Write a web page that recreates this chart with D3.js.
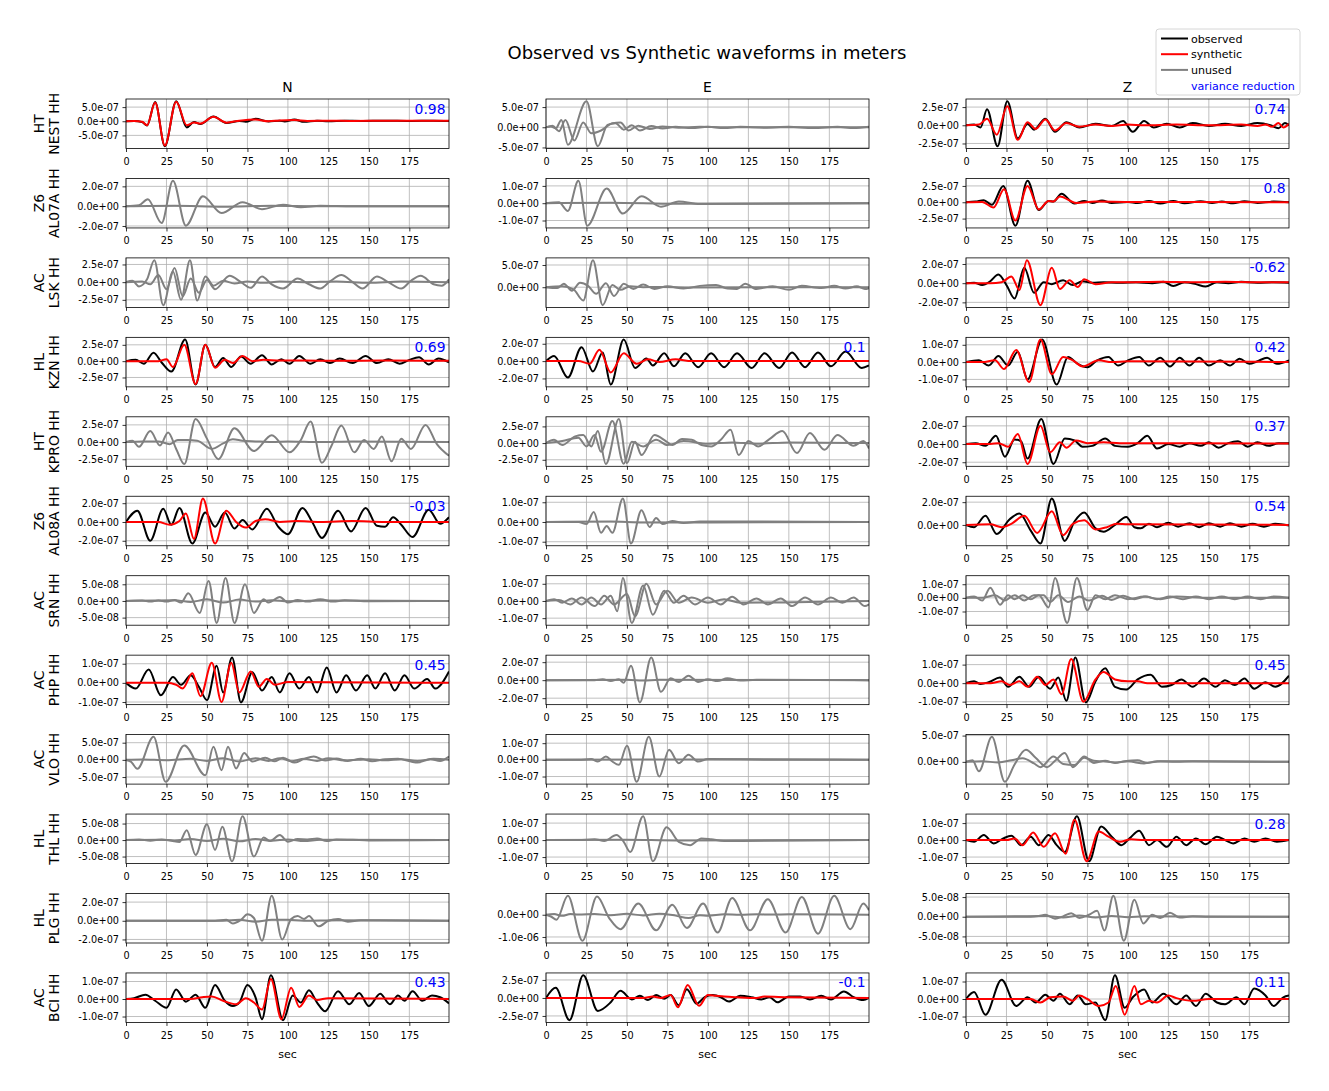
<!DOCTYPE html>
<html><head><meta charset="utf-8">
<script src="https://cdn.jsdelivr.net/npm/d3@7"></script>
<style>body{margin:0;background:#fff} text{font-family:"DejaVu Sans",sans-serif}</style>
</head><body><script>
// ---------------- DATA ----------------
const title = "Observed vs Synthetic waveforms in meters";
const components = ["N","E","Z"];
const stations = ["NEST","AL07A","LSK","KZN","KPRO","AL08A","SRN","PHP","VLO","THL","PLG","BCI"];
const networks = ["HT","Z6","AC","HL","HT","Z6","AC","AC","AC","HL","HL","AC"];
const channel = "HH";
const varReduction = [[0.98,null,0.74],[null,null,0.8],[null,null,-0.62],[0.69,0.1,0.42],[null,null,0.37],[-0.03,null,0.54],[null,null,null],[0.45,null,0.45],[null,null,null],[null,null,0.28],[null,null,null],[0.43,-0.1,0.11]];
const ampUnits = [[1e-7,1e-7,1e-7],[1e-7,1e-7,1e-7],[1e-7,1e-7,1e-7],[1e-7,1e-7,1e-7],[1e-7,1e-7,1e-7],[1e-7,1e-7,1e-7],[1e-8,1e-7,1e-7],[1e-7,1e-7,1e-7],[1e-7,1e-7,1e-7],[1e-8,1e-7,1e-7],[1e-7,1e-7,1e-8],[1e-7,1e-7,1e-7]];
const yTicks = [
 [[-5e-7,0,5e-7],[-5e-7,0,5e-7],[-2.5e-7,0,2.5e-7]],
 [[-2e-7,0,2e-7],[-1e-7,0,1e-7],[-2.5e-7,0,2.5e-7]],
 [[-2.5e-7,0,2.5e-7],[0,5e-7],[-2e-7,0,2e-7]],
 [[-2.5e-7,0,2.5e-7],[-2e-7,0,2e-7],[-1e-7,0,1e-7]],
 [[-2.5e-7,0,2.5e-7],[-2.5e-7,0,2.5e-7],[-2e-7,0,2e-7]],
 [[-2e-7,0,2e-7],[-1e-7,0,1e-7],[0,2e-7]],
 [[-5e-8,0,5e-8],[-1e-7,0,1e-7],[-1e-7,0,1e-7]],
 [[-1e-7,0,1e-7],[-2e-7,0,2e-7],[-1e-7,0,1e-7]],
 [[-5e-7,0,5e-7],[-1e-7,0,1e-7],[0,5e-7]],
 [[-5e-8,0,5e-8],[-1e-7,0,1e-7],[-1e-7,0,1e-7]],
 [[-2e-7,0,2e-7],[-1e-6,0],[-5e-8,0,5e-8]],
 [[-1e-7,0,1e-7],[-2.5e-7,0,2.5e-7],[-1e-7,0,1e-7]]
];
const xTicks = [0,25,50,75,100,125,150,175];
const xDomain = [0,199.5];
const legendLabels = ["observed","synthetic","unused","variance reduction"];

// waveform key points: [t(sec), amplitude (in ampUnits), ...]
const NEST_N_obs=[0,0,5,0.1,10,-0.3,13,-1.5,18,6.8,24,-8.84,31,7.07,37.5,-2.2,42,-0.3,46,-1.0,54,1.7,62,-0.6,70,0.1,74,-0.2,80,0.9,88,-0.1,95,0.2,98,-0.1,104,0.6,110,-0.2,118,0.2,125,0,135,0.2,145,0.1,160,0.2,175,0.1,190,0.2,199.5,0.1];
const NEST_N_syn=[0,0,5,0.1,10,-0.2,13,-1.4,18,6.6,24,-8.6,31,6.9,37.5,-1.4,42,-0.4,46,-0.8,54,1.6,62,-0.5,70,0.2,80,0.6,88,0,95,0.3,104,0.4,112,0.1,125,0.2,140,0.1,160,0.2,180,0.2,199.5,0.2];
const NEST_E_obs=[0,0,3,0.2,6,-0.3,9.5,1.8,13.5,-4.3,25,6.44,32,-4.7,38,0.6,43,1.0,48,-0.6,53,0.5,58,-0.8,65,0.3,72,-0.3,80,0.1,90,-0.2,100,0.1,110,-0.2,120,0.1,135,-0.1,150,0.1,165,-0.2,180,0.1,190,-0.2,199.5,0.1];
const NEST_E_syn=[0,0,4,0.4,8,-1.0,12,1.8,17.5,-3.3,23,1.2,28,-1.5,34,-0.8,41,1.0,46,1.2,51,-0.8,57,0.4,64,-0.4,72,0.2,82,-0.1,95,0.1,110,0,199.5,0];
const NEST_Z_obs=[0,0,5,0.1,9,-0.3,13,2.2,19.5,-2.88,25.5,3.3,32,-1.8,38,0.2,42,-0.6,49,0.9,55,-0.9,62,0.4,70,-0.3,80,0.2,90,-0.1,97,0.6,103,-0.9,110,0.6,116,-0.3,124,0.2,132,-0.3,140,0.3,150,-0.1,160,0.2,170,-0.1,180,0.3,188,0,193,-0.4,197,0.3,199.5,0];
const NEST_Z_syn=[0,0,8,0.1,13,0.9,19,-1.3,25.5,2.6,32,-2.0,38,0.4,43,-0.5,49,0.8,55,-0.7,62,0.3,70,-0.2,80,0.1,90,-0.1,100,0.1,110,0,130,0.1,150,0,170,0.1,180,-0.1,185,0.1,189,-0.2,193,0.3,196,-0.3,199.5,0.2];

const AL07A_N_obs=[0,0,8,0.1,13.5,0.7,22,-1.7,29,2.57,37,-1.97,47.5,1.0,59,-0.7,72,0.4,84,-0.3,97,0.15,108,-0.1,120,0.05,140,0,199.5,0];
const AL07A_N_syn=[0,0,30,0.05,60,-0.05,90,0.05,120,0,199.5,0];
const AL07A_E_obs=[0,0,8,0.05,13.5,-0.45,20,1.30,25.5,-1.30,37.5,0.85,47.5,-0.6,59,0.4,71,-0.2,82,0.1,95,-0.05,199.5,0];
const AL07A_E_syn=[0,0,40,0.03,80,-0.03,199.5,0];
const AL07A_Z_obs=[0,0,6,0.1,11,0.3,16,-0.4,23,2.5,30.5,-3.59,38,3.3,45,-1.2,51,0.2,54,0.1,59,1.3,67,-0.2,73,0.2,78,-0.1,84,0.25,90,-0.1,100,0.05,106,-0.1,113,0.2,120,-0.2,128,0.2,135,-0.15,145,0.15,152,-0.1,158,0.1,165,-0.15,172,0.15,180,-0.1,190,0.1,199.5,0];
const AL07A_Z_syn=[0,0,10,0.05,17,-0.8,23.5,2.0,30.5,-2.8,38,2.5,45,-1.1,51,0.2,54,0.1,58,0.9,68,-0.1,80,0.1,100,0.05,199.5,0];

const LSK_N_obs=[0,0,4,0.2,8,-0.6,13,0.4,17.5,3.11,23,-3.25,29,1.5,34,-2.5,39.5,3.11,44,-2.6,49,0.8,54,-0.5,60,0.2,67,-0.2,75,0.1,85,-0.1,95,0.1,110,0,130,0.1,150,-0.1,170,0.1,199.5,0];
const LSK_N_syn=[0,0,10,0.1,15,-0.3,20,1.0,25,-1.0,30,2.0,35,-2.0,40,0.5,45,-1.5,50,0.3,55,-1.0,64,0.9,71,0,77,-0.8,84,0.8,90,-0.3,97,-0.9,106,0.5,113,-0.3,120,-0.9,126,0.1,133,1.0,140,0,146,-0.9,155,0.8,162,0,170,-0.9,176,0.2,182,0.9,190,-0.3,195,-0.5,199.5,0.4];
const LSK_E_obs=[0,0,10,0.2,17,-0.5,23,-3.0,29,6.09,35,-4.04,41,0.5,46,-0.6,52,0.2,60,0,70,0.05,90,-0.05,199.5,0];
const LSK_E_syn=[0,0,7,-0.2,11,0.8,16,-0.8,21,1.0,26,0.3,31,-1.5,37,0.9,42,-2.0,48,0.8,54,-0.4,60,0.6,67,-0.4,75,0.2,85,-0.3,95,0.3,105,0.5,112,-0.3,118,-0.4,123,0.8,130,-0.4,140,0.2,150,-0.6,158,0.3,170,-0.2,178,0.3,185,-0.3,192,0.2,197,-0.4,199.5,-0.2];
const LSK_Z_obs=[0,0,5,0.05,10,-0.2,15,0.2,20,0.9,25,-0.2,30,-1.6,36,1.6,42,-1.0,48,0.1,53,-0.1,60,0.3,66,-0.2,72,0.2,78,0.05,85,0.1,95,0.05,105,0.1,115,0,122,0.15,128,-0.3,135,0.1,142,-0.1,148,-0.35,155,0.1,162,0,170,0.15,180,0.05,190,0.1,199.5,0.05];
const LSK_Z_syn=[0,0,15,0,22,0.1,28,0.7,33,-0.7,37.6,2.40,46,-2.29,53,1.6,58,-0.6,64,0.3,69,-0.4,73,0.4,80,-0.1,90,0.1,100,0.1,120,0.15,140,0.1,160,0.15,180,0.1,199.5,0.1];

const KZN_N_obs=[0,0,6,0.2,11,-0.4,17,1.3,22,-0.2,28,-1.6,36.5,3.30,43,-3.59,49,2.5,55,-0.9,60,0.5,65,-0.9,71,0.7,77,-0.4,84,0.9,90,-0.5,96,0.3,101,-0.4,107,0.8,114,-0.4,120,0.3,126,-0.3,132,0.4,140,-0.3,148,0.8,155,-0.3,162,0.3,169,-0.4,175,0.2,181,0.6,187,-0.5,193,0.4,199.5,-0.2];
const KZN_N_syn=[0,0,20,0,25,0.3,29,-0.9,36,2.5,43,-3.5,49,2.5,55,-1.0,61,0.2,66,-0.3,72,0.8,78,0,85,0.2,95,0.1,110,0.1,130,0.05,160,0.1,199.5,0.05];
const KZN_E_obs=[0,0,5,0.6,13.5,-1.9,22,1.6,29,-1.2,35,1.0,40,-2.71,48,2.48,55,-0.8,62,0.3,66,-0.5,73,0.9,79,-0.6,86,0.9,94,-0.7,102,0.9,110,-0.7,118,0.9,127,-0.8,135,0.9,144,-0.8,152,1.0,160,-0.7,168,1.0,176,-0.6,185,1.1,195,-0.8,199.5,-0.5];
const KZN_E_syn=[0,0,20,0,27,-0.3,33,1.3,40,-1.3,48,0.9,56,-0.3,63,0.2,70,-0.1,80,0.2,90,0,199.5,0];
const KZN_Z_obs=[0,0,8,0.1,14,-0.2,20,0.35,26,-0.2,32,0.6,38,-1.0,47,1.30,56,-1.30,63,0.3,69,-0.1,75,-0.3,81,0.1,88,0.3,94,-0.2,100,0.1,107,0.3,113,-0.2,120,0.25,126,-0.25,132,0.25,138,-0.2,144,0.25,150,-0.2,157,0.1,163,-0.2,169,0.2,175,-0.1,180,0.05,186,0.25,192,-0.1,199.5,0.1];
const KZN_Z_syn=[0,0,10,0,18,0.1,23.5,-0.4,31,0.7,39,-1.15,46,1.30,53,-0.7,60,0.3,66,0.1,72,-0.25,82,0.1,90,0,100,0.05,199.5,0];

const KPRO_N_obs=[0,0,4,0.2,8,-0.7,15,1.6,21,-0.5,26,1.4,31,-1.0,36,-3.2,43,3.35,50,0.5,57,-2.5,67,2.0,79,-1.3,90,1.0,101,-1.5,108,0.3,114,3.0,121,-3.0,127,-0.5,133,2.4,141,-1.5,147,0.3,153,-1.0,158,0.8,164,-2.8,170,0.5,176,-1.0,185,2.5,192,-0.3,199.5,-2.0];
const KPRO_N_syn=[0,0,10,0.1,20,0.1,27,-0.3,32,0.3,38,0.3,44,0.2,53,-1.0,60,-0.2,66,0.4,72,0.2,80,0.1,90,0,100,0.1,120,0,140,0.1,199.5,0];
const KPRO_E_obs=[0,0,5,0.5,10,-0.3,18,1.0,23,1.2,28,-0.5,32,1.8,37,-3.14,45,3.6,50,-3.0,55,0.2,59,-1.8,67,1.2,74,0.3,78,-0.3,84,0.6,90,0.5,96,-0.3,102,-0.5,108,0.5,114,2.0,119,-1.8,125,0.3,131,-0.5,138,0.6,146,1.8,155,-1.5,163,1.5,172,-1.0,180,1.2,190,-0.4,196,0.3,199.5,-0.8];
const KPRO_E_syn=[0,0,10,0.3,20,0.8,25,-0.5,30,1.2,34,-1.3,41,3.3,48,-3.1,53,0.2,60,-0.5,68,0.5,75,-0.3,85,0.3,100,-0.1,115,0.1,130,-0.1,150,0.1,199.5,0];
const KPRO_Z_obs=[0,0,6,0.1,12,-0.2,18.5,0.9,24,-1.4,30,0.5,34,0.3,38,-1.6,46.5,2.75,54,-2.2,61,0.6,67,0.4,72,-0.3,78,-0.2,86,0.6,92,-0.2,100,-0.3,106,0.1,112,0.9,118,-0.5,125,0.0,132,-0.3,138,0.1,145,-0.2,150,0.2,156,-0.4,162,0.1,168,0.3,174,-0.3,180,0.2,187,-0.2,193,0.1,199.5,0.1];
const KPRO_Z_syn=[0,0,15,0,20,0.1,26,-0.3,32,1.1,38,-2.2,46,2.0,52,-0.9,58,0.2,62,-0.4,68,0.4,75,0.1,85,0.2,95,0.1,110,0.1,199.5,0.05];

const AL08A_N_obs=[0,0,7,1.2,15,-2.0,23,1.4,28,-0.3,33,1.5,41,-2.29,49,1.0,55,-0.5,61,1.0,67,-0.7,72,0.2,78,-0.8,87,1.4,94,-0.5,100,-1.3,109,1.5,115,0,121,-1.7,131,1.2,139,-1.0,148,1.5,155,-0.4,160,-0.5,165,0.5,170,-0.3,177,-1.6,187,1.3,194,-0.2,199.5,0.5];
const AL08A_N_syn=[0,0,20,0,27,-0.3,33,0.1,37,0.9,42,-1.8,47.5,2.5,55,-2.29,62,1.2,68,0,74,-0.6,80,0.1,86,0.3,95,0,105,0.1,120,0,140,0.1,160,0,199.5,0];
const AL08A_E_obs=[0,0,20,0,25,-0.1,29.5,0.5,34,-0.55,37.5,-0.2,41,-0.55,47.5,1.19,52.5,-1.09,59,0.6,64,-0.25,68,0.2,72,-0.1,78,0.05,85,-0.05,95,0.03,199.5,0];
const AL08A_E_syn=[0,0,40,0.02,60,-0.03,199.5,0];
const AL08A_Z_obs=[0,0,5,-0.2,12,0.8,19,-0.8,27,0.5,33,1.0,40,-0.5,46,-1.63,53,2.32,61,-1.4,67,0.3,73,1.1,80,-0.3,85,-0.6,92,0.0,99,0.7,104,-0.2,108,-0.3,113,0.1,118,-0.2,125,0.2,131,-0.15,138,0.15,144,-0.2,150,0.15,157,-0.15,163,0.15,170,-0.15,177,0.1,184,-0.15,191,0.1,199.5,-0.05];
const AL08A_Z_syn=[0,0,15,0.05,22,-0.2,28,0.1,36,0.8,44,-0.7,53,1.2,60,-0.9,66,0.1,73,0.4,80,-0.4,87,-0.2,93,0.1,100,0.05,199.5,0];

const SRN_N_obs=[0,0,10,0.1,15,-0.2,20,0.1,25,-0.2,30,0.3,34,-0.5,38.5,2.3,45.5,-3.6,51,6.0,56,-6.6,61.5,6.9,67,-6.6,73.5,5.0,79,-3.6,85,0.5,88,-0.5,95,1.2,100,-0.5,106,0.3,112,-0.2,120,0.5,128,-0.2,135,0.2,150,-0.1,199.5,0];
const SRN_N_syn=[0,0,30,0.2,40,-0.3,50,0.5,60,-0.5,70,0.4,80,-0.2,90,0.2,100,-0.1,120,0.1,199.5,0];
const SRN_E_obs=[0,0,5,0.1,10,-0.1,16,0.15,22,-0.2,28,0.2,34,-0.2,40,0.3,44,-0.6,47.5,1.34,53,-1.28,60,0.9,66,-0.8,73,0.6,79,-0.1,85,0.3,92,-0.2,100,0.2,108,-0.2,115,0.25,122,-0.2,130,0.15,137,-0.2,145,0.15,152,-0.3,160,0.2,168,-0.2,176,0.2,183,-0.1,190,0.2,197,-0.3,199.5,-0.2];
const SRN_E_syn=[0,0,8,0.05,15,-0.2,22,0.2,30,-0.3,36,0.3,42,-0.2,50,0.4,55,-0.9,62,1.0,68,-0.2,75,0.6,82,-0.1,90,0.2,100,-0.1,110,0.1,120,-0.1,199.5,0];
const SRN_Z_obs=[0,0,5,0.1,10,-0.2,15,0.75,21,-0.5,26,0.2,30,-0.1,35,0.2,40,-0.1,45,0.2,51,-0.7,55,1.46,62.5,-1.84,68.5,1.46,75,-0.9,80,0.2,86,-0.1,92,0.2,100,-0.1,110,0.1,120,-0.1,130,0.1,150,0,199.5,0];
const SRN_Z_syn=[0,0,10,0,18,0.2,24,-0.2,30,0.2,36,-0.2,42,0.2,48,0.2,52,-0.3,57,0.2,63,-0.3,70,0.1,76,-0.2,84,0.15,90,-0.15,97,0.15,104,-0.1,111,0.1,118,-0.1,126,0.1,134,-0.1,142,0.1,150,-0.1,158,0.1,166,-0.1,174,0.1,182,-0.1,190,0.1,199.5,0];

const PHP_N_obs=[0,0,6,-0.3,14,0.7,21.5,-0.65,29,0.3,34,-0.1,40,0.4,45,-0.2,50,-0.9,56,0.9,60,-0.5,65.5,1.33,71,-1.02,78,0.55,84,-0.4,90,0.3,95,-0.5,101,0.5,107,-0.3,113,0.3,118,-0.5,124,0.8,130,-0.5,136,0.4,142,-0.4,149,0.4,154,-0.3,160,0.5,166,-0.4,172,0.4,178,-0.3,186,0.2,191,-0.3,199.5,0.6];
const PHP_N_syn=[0,0,25,0,31,-0.1,35,-0.3,41,0.5,46,-0.7,53,1.05,59,-1.0,65,1.05,70,-0.5,77,0.6,82,-0.2,87,0.2,92,-0.1,100,0.05,199.5,0];
const PHP_E_obs=[0,0,30,0,35,0.1,40,-0.1,45,0.1,48,-0.3,52.5,1.6,58,-2.47,65,2.53,71,-1.3,77,0.2,82,-0.2,88,0.5,94,-0.2,100,0.1,106,-0.1,112,0.2,120,-0.05,130,0.05,199.5,0];
const PHP_E_syn=[0,0,50,0.05,60,-0.05,70,0.05,199.5,0];
const PHP_Z_obs=[0,0,5,0.1,9,-0.05,14,0.05,21,0.3,26,-0.2,33,0.35,39,-0.2,45,0.35,52,-0.3,57,0.3,62,-0.95,67.5,1.39,74,-1.04,80,0.1,86,0.8,92,-0.2,99,-0.35,106,0.2,114,0.45,121,-0.2,127,-0.1,133,0.2,140,-0.2,147,0.25,154,-0.2,160,0.15,166,-0.1,172,0.25,178,-0.3,185,0.05,191,-0.2,199.5,0.4];
const PHP_Z_syn=[0,0,15,0,22,0.1,27,-0.1,33,0.1,38,-0.2,44,0.35,49,-0.1,54,0.2,59,-0.6,65,1.3,72.5,-1.0,80,0.2,85,0.6,92,0.2,100,0.1,106,0.1,112,0,199.5,0];

const VLO_N_obs=[0,0,3,-0.5,7,-2.6,17,6.7,24.5,-6.4,36,4.2,49,-4.5,54,3.8,59,-3.0,63,3.8,68,-2.5,73,2.0,78,-0.5,86,0.6,92,-0.4,97,0.6,104,-0.8,110,0.3,116,1.0,123,-0.2,130,0.4,137,-0.3,145,0.3,152,-0.4,160,0.2,168,0.3,176,-0.5,180,-0.8,188,0.2,194,-0.3,199.5,1.0];
const VLO_N_syn=[0,0,10,0.1,25,-0.1,40,0.3,50,-0.3,60,0.5,70,-0.5,80,0.5,88,-0.3,95,0.5,102,-0.4,110,0.3,118,-0.3,125,0.5,135,-0.2,150,0.2,160,-0.1,170,0.2,180,-0.3,190,0.3,199.5,0];
const VLO_E_obs=[0,0,20,0,28,0.05,32,-0.1,37,0.2,41,-0.1,45,-0.3,50,0.85,56,-1.32,63.5,1.38,70,-1.0,76,0.6,82,-0.2,88,0.3,94,-0.1,100,0.05,199.5,0];
const VLO_E_syn=[0,0,60,0.02,199.5,0];
const VLO_Z_obs=[0,0,4,0.3,8,-1.8,16,4.76,24,-3.8,30,-0.5,37,2.3,43,0.8,50,-1.0,55,0.2,61,1.7,66,-1.0,73,1.0,79,-0.2,86,0.2,92,-0.2,98,0.1,106,0.3,112,-0.2,120,0.1,130,0.1,199.5,0];
const VLO_Z_syn=[0,0,10,0.1,20,-0.1,28,0.3,35,0.7,42,-0.3,46,-1.0,54,1.0,60,-0.4,67,-0.6,73,0.8,79,0.2,85,0.1,92,-0.1,100,0.1,110,-0.3,118,0.1,130,0,140,0.1,199.5,0];

const THL_N_obs=[0,0,8,0.2,15,-0.2,22,0.2,28,-0.2,33,-0.6,37.5,3.0,43,-4.5,50,4.8,55,-3.0,59.5,4.0,65.5,-6.44,72,7.2,79,-5.0,85,0.8,89,-0.3,95,1.5,100,-0.5,106,0.3,112,0.2,118,0.5,124,-0.3,130,0.2,140,0.1,150,-0.1,199.5,0];
const THL_N_syn=[0,0,20,0.1,30,-0.1,40,0.3,50,-0.3,60,0.4,70,-0.4,80,0.3,90,-0.2,100,0.2,110,-0.3,120,0.1,199.5,0];
const THL_E_obs=[0,0,20,0,30,0.05,36,-0.05,43.5,0.3,48,-0.1,52,-0.7,60,1.40,66,-1.25,74.5,0.75,82,-0.1,89,-0.3,96,0.1,102,0.05,110,-0.05,199.5,0];
const THL_E_syn=[0,0,50,0.02,80,-0.02,199.5,0];
const THL_Z_obs=[0,0,5,-0.1,11,0.3,17,-0.2,23,0.1,28,0.25,34,-0.3,40,0.2,45,-0.3,51,0.3,56,-0.3,61,-0.7,68.5,1.40,76,-1.25,83.5,0.8,90,0.2,96,-0.3,101,0.1,107,0.55,113,-0.3,118,0,124,-0.4,130,0.2,136,-0.3,142,0.1,148,-0.25,155,0.2,160,0,165,-0.2,172,0.1,178,-0.1,185,0.1,192,-0.1,199.5,0];
const THL_Z_syn=[0,0,25,0,30,0.1,35,-0.3,41.5,0.45,48,-0.4,55,0.4,61.5,-0.8,67,1.2,74.5,-1.25,82,0.5,88,0.2,95,-0.1,102,0.05,110,0,199.5,0];

const PLG_N_obs=[0,0,55,0,62,0.1,66,-0.3,71,0.1,75,0.7,79,0.3,84,-2.14,90,2.68,96.5,-2.0,102,0.2,106,0.5,110,0.2,113,0.5,119,-0.6,125,0,131,0.2,137,-0.1,145,0.05,199.5,0];
const PLG_N_syn=[0,0,60,0,70,0.1,80,-0.1,90,0.1,100,0.1,110,0,130,0.05,199.5,0];
const PLG_E_obs=[0,0,3,-0.8,6.5,-2.2,13.5,8.54,22.5,-11.7,31.5,8.2,39,-1.5,46,-6.5,57,5.0,68,-7.0,78,4.5,87,-6.0,97,5.0,106,-8.0,115,7.5,126,-7.0,137,7.0,148,-8.0,158,8.0,168,-8.5,178,8.5,188,-6.5,196,5.0,199.5,2.0];
const PLG_E_syn=[0,0,5,0.3,10,-0.5,15,0.3,20,0.1,30,0.3,40,-0.2,50,0.4,60,-0.3,70,0.5,80,-0.4,88,-1.5,95,-0.2,100,-0.5,110,0.2,120,0,130,0.2,140,0.1,150,0.2,199.5,0];
const PLG_Z_obs=[0,0,40,0,45,0.2,49,0.5,55,-0.5,60,0.1,65,0.9,70,-0.3,76,0.5,81,1.5,85.5,-3.5,91,5.33,97.5,-6.1,104,4.3,109.5,-1.7,115,0.5,120,-0.3,126,1.0,132,-0.2,140,0.1,150,0,199.5,0];
const PLG_Z_syn=[0,0,30,0.1,50,0.2,60,-0.2,70,0.3,80,-0.2,90,0.2,100,-0.1,110,0.1,199.5,0];

const BCI_N_obs=[0,0,5,0.05,12,0.25,18,-0.1,25,-0.5,31,0.55,37,-0.15,43,0.25,49,-0.5,55,0.8,61,-0.1,66,-0.4,70,-0.2,75,0.8,80,0.1,84,-1.15,89.5,1.36,97,-1.21,103,0.2,108,-0.2,113,0.5,118,-0.2,123,-0.7,131,0.45,138,-0.3,144,0.35,150,-0.4,157,0.3,163,-0.3,168,0.2,172,-0.1,177,0.45,183,-0.1,189,0.2,194,0.1,199.5,-0.25];
const BCI_N_syn=[0,0,40,0,47,0.1,53,0.15,60,-0.1,68,-0.3,74,0.05,79,-0.2,84,-0.6,89.5,1.15,96,-1.15,102,0.65,107,-0.45,113,0.2,118,-0.05,125,0.05,199.5,0];
const BCI_E_obs=[0,0,6,1.4,14.5,-3.09,23,3.16,32,-1.8,40,-0.6,46,1.0,53,-0.2,58,0.3,63,-0.3,68,0.4,73,-0.1,77,0.4,82,-1.0,87,1.2,93,-0.8,98,0.1,103,0.4,108,0.1,113,-0.5,120,0.3,127,0.1,133,-0.2,138,0.1,143,-0.6,150,0.2,157,0.2,163,-0.2,170,0.3,176,-0.2,184,0.9,190,0.1,196,-0.3,199.5,0];
const BCI_E_syn=[0,0,60,0,66,0.2,71,0,77,0.4,81.5,-1.3,87.5,1.8,94.5,-1.1,100,0.4,105,0.3,110,0.2,118,0.1,130,0,135,0.2,150,0.1,199.5,0];
const BCI_Z_obs=[0,0,5,0.4,12,-0.9,22,1.1,31,-0.4,38,0.1,43,-0.2,49,0.25,54,-0.1,58,0.3,64,-0.3,69,0.2,74,-0.3,80,-0.2,86,-1.21,92,1.36,98,-0.5,103,0.1,110,0.55,115,-0.2,122,0.3,130,-0.3,136,0.2,142,-0.4,148,0.3,155,-0.2,160,-0.3,167,0.1,172,-0.3,178,0.6,185,0.2,190,-0.4,196,0.1,199.5,0.2];
const BCI_Z_syn=[0,0,40,0,46,-0.2,52,0.1,60,0.15,66,-0.1,70,0.2,75,0,82,-0.4,88,-0.2,92.5,0.75,98,-0.9,104,0.75,108,-0.3,113,-0.1,118,-0.2,125,0.2,130,0.05,140,-0.1,150,0,199.5,0];

const waveforms = [
 [[NEST_N_obs,NEST_N_syn],[NEST_E_obs,NEST_E_syn],[NEST_Z_obs,NEST_Z_syn]],
 [[AL07A_N_obs,AL07A_N_syn],[AL07A_E_obs,AL07A_E_syn],[AL07A_Z_obs,AL07A_Z_syn]],
 [[LSK_N_obs,LSK_N_syn],[LSK_E_obs,LSK_E_syn],[LSK_Z_obs,LSK_Z_syn]],
 [[KZN_N_obs,KZN_N_syn],[KZN_E_obs,KZN_E_syn],[KZN_Z_obs,KZN_Z_syn]],
 [[KPRO_N_obs,KPRO_N_syn],[KPRO_E_obs,KPRO_E_syn],[KPRO_Z_obs,KPRO_Z_syn]],
 [[AL08A_N_obs,AL08A_N_syn],[AL08A_E_obs,AL08A_E_syn],[AL08A_Z_obs,AL08A_Z_syn]],
 [[SRN_N_obs,SRN_N_syn],[SRN_E_obs,SRN_E_syn],[SRN_Z_obs,SRN_Z_syn]],
 [[PHP_N_obs,PHP_N_syn],[PHP_E_obs,PHP_E_syn],[PHP_Z_obs,PHP_Z_syn]],
 [[VLO_N_obs,VLO_N_syn],[VLO_E_obs,VLO_E_syn],[VLO_Z_obs,VLO_Z_syn]],
 [[THL_N_obs,THL_N_syn],[THL_E_obs,THL_E_syn],[THL_Z_obs,THL_Z_syn]],
 [[PLG_N_obs,PLG_N_syn],[PLG_E_obs,PLG_E_syn],[PLG_Z_obs,PLG_Z_syn]],
 [[BCI_N_obs,BCI_N_syn],[BCI_E_obs,BCI_E_syn],[BCI_Z_obs,BCI_Z_syn]]
];

// ---------------- DRAWING ----------------
const W = 1329, H = 1091;
const svg = d3.select("body").append("svg").attr("width", W).attr("height", H);
svg.append("rect").attr("width", W).attr("height", H).attr("fill", "#fff");

const colLeft = [126, 546, 966], panelW = 323;
const rowTop0 = 99, rowStep = 79.45, panelH = 49.5;
const tickFont = 9.7, labelFont = 13.9;
const colors = {obs: "#000000", syn: "#ff0000", unused: "#808080", vr: "#0000ff", grid: "#b0b0b0"};

function toPoints(arr, unit) {
  const out = [];
  for (let i = 0; i < arr.length; i += 2) out.push([arr[i], arr[i + 1] * unit]);
  return out;
}
function fmtSci(v) {
  if (Math.abs(v) < 1e-20) return "0.0e+00";
  const s = v.toExponential(1);
  const [m, e] = s.split("e");
  const sign = e[0] === "-" ? "-" : "+";
  let d = e.replace(/[+-]/, "");
  if (d.length < 2) d = "0" + d;
  return m + "e" + sign + d;
}

// suptitle
svg.append("text").attr("x", 707).attr("y", 59).attr("text-anchor", "middle")
  .attr("font-size", 18).text(title);

stations.forEach((st, r) => {
  const top = rowTop0 + r * rowStep;
  // row label (two lines, rotated)
  const yc = top + panelH / 2;
  [networks[r], st + " " + channel].forEach((lbl, k) => {
    svg.append("text")
      .attr("transform", `translate(${43.5 + k * 15.2},${yc}) rotate(-90)`)
      .attr("text-anchor", "middle").attr("font-size", labelFont).text(lbl);
  });

  components.forEach((comp, c) => {
    const left = colLeft[c];
    const [obsK, synK] = waveforms[r][c];
    const unit = ampUnits[r][c];
    const obs = toPoints(obsK, unit), syn = toPoints(synK, unit);
    const all = obs.concat(syn);
    const lo = d3.min(all, d => d[1]), hi = d3.max(all, d => d[1]);
    const pad = (hi - lo) * 0.05;
    const x = d3.scaleLinear().domain(xDomain).range([left, left + panelW]);
    const y = d3.scaleLinear().domain([lo - pad, hi + pad]).range([top + panelH, top]);
    const ticks = yTicks[r][c].filter(v => v >= y.domain()[0] && v <= y.domain()[1]);
    const used = varReduction[r][c] !== null;
    const g = svg.append("g");

    // grid
    g.append("g").selectAll("line").data(xTicks).join("line")
      .attr("x1", d => x(d)).attr("x2", d => x(d)).attr("y1", top).attr("y2", top + panelH)
      .attr("stroke", colors.grid).attr("stroke-width", 0.8);
    g.append("g").selectAll("line").data(ticks).join("line")
      .attr("x1", left).attr("x2", left + panelW).attr("y1", d => y(d)).attr("y2", d => y(d))
      .attr("stroke", colors.grid).attr("stroke-width", 0.8);

    // traces
    const cid = `clip-${r}-${c}`;
    svg.append("clipPath").attr("id", cid).append("rect")
      .attr("x", left).attr("y", top).attr("width", panelW).attr("height", panelH);
    const line = d3.line().x(d => x(d[0])).y(d => y(d[1])).curve(d3.curveMonotoneX);
    const lg = g.append("g").attr("clip-path", `url(#${cid})`);
    lg.append("path").attr("d", line(obs)).attr("fill", "none")
      .attr("stroke", used ? colors.obs : colors.unused).attr("stroke-width", 2)
      .attr("stroke-linejoin", "round");
    lg.append("path").attr("d", line(syn)).attr("fill", "none")
      .attr("stroke", used ? colors.syn : colors.unused).attr("stroke-width", 2)
      .attr("stroke-linejoin", "round");

    // variance reduction
    if (used) {
      g.append("text").attr("x", left + panelW - 3.5).attr("y", top + 14.5)
        .attr("text-anchor", "end").attr("font-size", labelFont).attr("fill", colors.vr)
        .text(String(varReduction[r][c]));
    }

    // frame
    g.append("rect").attr("x", left).attr("y", top).attr("width", panelW).attr("height", panelH)
      .attr("fill", "none").attr("stroke", "#000").attr("stroke-width", 0.8);

    // axes
    const ax = g.append("g").attr("transform", `translate(${left},0)`)
      .call(d3.axisLeft(y).tickValues(ticks).tickFormat(fmtSci).tickSize(3.5).tickPadding(3.5).tickSizeOuter(0));
    ax.select(".domain").remove();
    ax.selectAll("text").attr("font-size", tickFont).attr("font-family", "DejaVu Sans");
    ax.selectAll("line").attr("stroke-width", 0.8);
    const bx = g.append("g").attr("transform", `translate(0,${top + panelH})`)
      .call(d3.axisBottom(x).tickValues(xTicks).tickFormat(d3.format("d")).tickSize(3.5).tickPadding(6).tickSizeOuter(0));
    bx.select(".domain").remove();
    bx.selectAll("text").attr("font-size", tickFont).attr("font-family", "DejaVu Sans");
    bx.selectAll("line").attr("stroke-width", 0.8);

    if (r === 0) {
      svg.append("text").attr("x", left + panelW / 2).attr("y", top - 7.5)
        .attr("text-anchor", "middle").attr("font-size", labelFont).text(comp);
    }
    if (r === stations.length - 1) {
      svg.append("text").attr("x", left + panelW / 2).attr("y", top + panelH + 36)
        .attr("text-anchor", "middle").attr("font-size", 11.1).text("sec");
    }
  });
});

// legend
const lgd = svg.append("g");
lgd.append("rect").attr("x", 1156).attr("y", 29).attr("width", 144).attr("height", 66).attr("rx", 3)
  .attr("fill", "#fff").attr("fill-opacity", 0.8).attr("stroke", "#cccccc").attr("stroke-width", 0.8);
const legendColors = [colors.obs, colors.syn, colors.unused, null];
const legendY = [38.5, 54.2, 69.9, 85.6];
legendLabels.forEach((lbl, i) => {
  if (legendColors[i]) {
    lgd.append("line").attr("x1", 1161).attr("x2", 1188).attr("y1", legendY[i]).attr("y2", legendY[i])
      .attr("stroke", legendColors[i]).attr("stroke-width", 2);
  }
  lgd.append("text").attr("x", 1191).attr("y", legendY[i] + 4).attr("font-size", 11.1)
    .attr("fill", i === 3 ? colors.vr : "#000").text(lbl);
});
</script></body></html>
